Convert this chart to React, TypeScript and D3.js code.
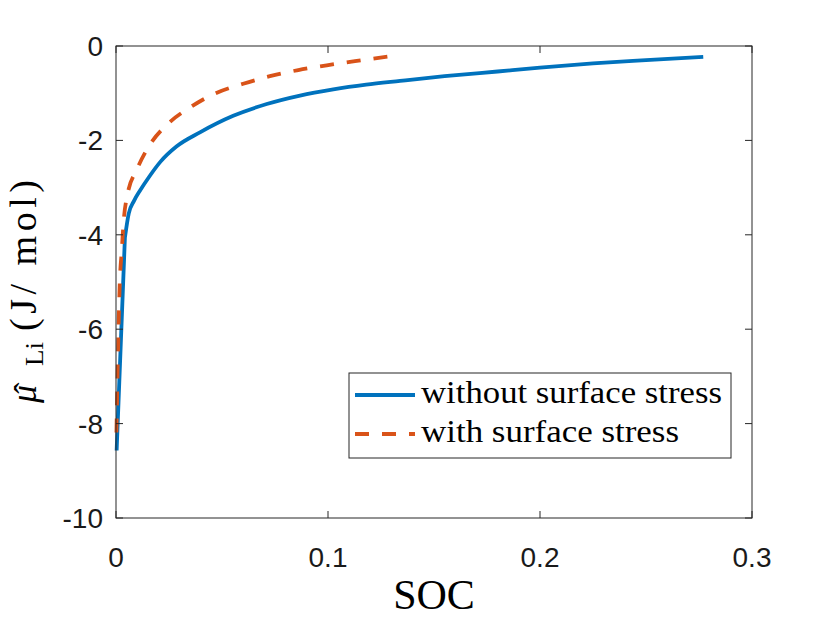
import { useEffect, useRef } from "react"
import * as d3 from "d3"

// SOC vs chemical potential
const blueSOC = [0.0003, 0.0042, 0.006, 0.0085, 0.0115, 0.0155, 0.021, 0.0285, 0.0396, 0.0553, 0.0711, 0.0868, 0.1025, 0.118, 0.134, 0.155, 0.18, 0.2, 0.225, 0.25, 0.277]
const blueMu = [-8.57, -4.06, -3.55, -3.28, -3.05, -2.78, -2.45, -2.13, -1.83, -1.48, -1.23, -1.05, -0.92, -0.82, -0.74, -0.64, -0.54, -0.46, -0.37, -0.3, -0.23]

const orangeSOC = [0.0002, 0.0019, 0.0027, 0.0036, 0.0055, 0.0097, 0.016, 0.0247, 0.0357, 0.0451, 0.06, 0.0726, 0.086, 0.0994, 0.1127, 0.129]
const orangeMu = [-8.19, -4.89, -4.35, -3.72, -3.13, -2.63, -2.09, -1.64, -1.28, -1.04, -0.8, -0.64, -0.51, -0.41, -0.32, -0.22]

const xTicks = [0, 0.1, 0.2, 0.3]
const yTicks = [0, -2, -4, -6, -8, -10]
const seriesNames = ["without surface stress", "with surface stress"]

export default function App() {
  const svgRef = useRef<SVGSVGElement>(null)

  useEffect(() => {
    if (!svgRef.current) return
    const root = d3.select(svgRef.current)
    root.selectAll("*").remove()

    const width = 830
    const height = 623
    const margin = { top: 46, right: 78, bottom: 105, left: 116 }
    const w = width - margin.left - margin.right
    const h = height - margin.top - margin.bottom
    const axisColor = "#262626"
    const tickFont = "'Liberation Sans', Arial, Helvetica, sans-serif"
    const serif = "'Liberation Serif', 'Times New Roman', serif"
    const dash = "14,13"

    root.attr("width", width).attr("height", height)
    const g = root.append("g").attr("transform", `translate(${margin.left},${margin.top})`)

    const x = d3.scaleLinear().domain([0, 0.3]).range([0, w])
    const y = d3.scaleLinear().domain([-10, 0]).range([h, 0])

    const smooth = d3
      .line<[number, number]>()
      .x((d) => x(d[0]))
      .y((d) => y(d[1]))
      .curve(d3.curveMonotoneX)
    const straight = d3
      .line<[number, number]>()
      .x((d) => x(d[0]))
      .y((d) => y(d[1]))

    const blue: [number, number][] = blueSOC.map((s, i) => [s, blueMu[i]])
    const orange: [number, number][] = orangeSOC.map((s, i) => [s, orangeMu[i]])

    // blue: steep first segment is straight, the rest smooth
    const bluePath = (straight(blue.slice(0, 2)) || "") + (smooth(blue.slice(1)) || "").replace(/^M[^CL]*/, "")
    g.append("path")
      .attr("d", bluePath)
      .attr("fill", "none")
      .attr("stroke", "#0072BD")
      .attr("stroke-width", 3.8)
      .attr("stroke-linejoin", "round")

    g.append("path")
      .datum(orange)
      .attr("d", smooth)
      .attr("fill", "none")
      .attr("stroke", "#D95319")
      .attr("stroke-width", 3.8)
      .attr("stroke-dasharray", dash)

    // Box
    g.append("rect")
      .attr("width", w)
      .attr("height", h)
      .attr("fill", "none")
      .attr("stroke", axisColor)
      .attr("stroke-width", 1)

    // Ticks on all four sides, pointing in
    const tl = 7
    xTicks.forEach((t) => {
      g.append("line").attr("x1", x(t)).attr("x2", x(t)).attr("y1", h).attr("y2", h - tl).attr("stroke", axisColor)
      g.append("line").attr("x1", x(t)).attr("x2", x(t)).attr("y1", 0).attr("y2", tl).attr("stroke", axisColor)
      g.append("text")
        .attr("x", x(t))
        .attr("y", h + 49)
        .attr("text-anchor", "middle")
        .style("font-family", tickFont)
        .style("font-size", "28px")
        .style("fill", "#1a1a1a")
        .text(String(t))
    })
    yTicks.forEach((t) => {
      g.append("line").attr("x1", 0).attr("x2", tl).attr("y1", y(t)).attr("y2", y(t)).attr("stroke", axisColor)
      g.append("line").attr("x1", w).attr("x2", w - tl).attr("y1", y(t)).attr("y2", y(t)).attr("stroke", axisColor)
      g.append("text")
        .attr("x", -13)
        .attr("y", y(t))
        .attr("dy", "0.36em")
        .attr("text-anchor", "end")
        .style("font-family", tickFont)
        .style("font-size", "28px")
        .style("fill", "#1a1a1a")
        .text(String(t))
    })

    // X label
    root.append("text")
      .attr("x", margin.left + w / 2)
      .attr("y", 609)
      .attr("text-anchor", "middle")
      .style("font-family", serif)
      .style("font-size", "42px")
      .style("fill", "#000")
      .text("SOC")

    // Y label: mu-hat with subscript Li, then units
    const yl = root.append("g").attr("transform", `translate(36,287) rotate(-90)`)
    yl.append("text")
      .attr("x", -116)
      .attr("y", 0)
      .style("font-family", serif)
      .style("font-size", "36px")
      .style("font-style", "italic")
      .style("fill", "#000")
      .text("\u03bc")
    yl.append("text")
      .attr("x", -101)
      .attr("y", 2)
      .attr("text-anchor", "middle")
      .style("font-family", serif)
      .style("font-size", "34px")
      .style("fill", "#000")
      .text("\u02c6")
    yl.append("text")
      .attr("x", -79)
      .attr("y", 7)
      .attr("textLength", 24)
      .attr("lengthAdjust", "spacingAndGlyphs")
      .style("font-family", serif)
      .style("font-size", "25px")
      .style("fill", "#000")
      .text("Li")
    yl.append("text")
      .attr("x", -44)
      .attr("y", 0)
      .attr("textLength", 151)
      .attr("lengthAdjust", "spacing")
      .style("font-family", serif)
      .style("font-size", "38px")
      .style("fill", "#000")
      .text("(J/ mol)")

    // Legend
    const lg = root.append("g").attr("transform", "translate(349,373)")
    lg.append("rect")
      .attr("width", 382)
      .attr("height", 85)
      .attr("fill", "#fff")
      .attr("stroke", axisColor)
      .attr("stroke-width", 1)
    const colors = ["#0072BD", "#D95319"]
    const dashes = [null, dash]
    const textLens = [301, 258]
    seriesNames.forEach((name, i) => {
      const cy = 22 + i * 39
      lg.append("line")
        .attr("x1", 6)
        .attr("x2", 66)
        .attr("y1", cy)
        .attr("y2", cy)
        .attr("stroke", colors[i])
        .attr("stroke-width", 3.8)
        .attr("stroke-dasharray", dashes[i])
      lg.append("text")
        .attr("x", 72)
        .attr("y", cy + 8)
        .attr("textLength", textLens[i])
        .attr("lengthAdjust", "spacingAndGlyphs")
        .style("font-family", serif)
        .style("font-size", "31px")
        .style("fill", "#000")
        .text(name)
    })
  }, [])

  return <svg ref={svgRef} style={{ position: "absolute", left: 0, top: 0, background: "#fff" }}></svg>
}
